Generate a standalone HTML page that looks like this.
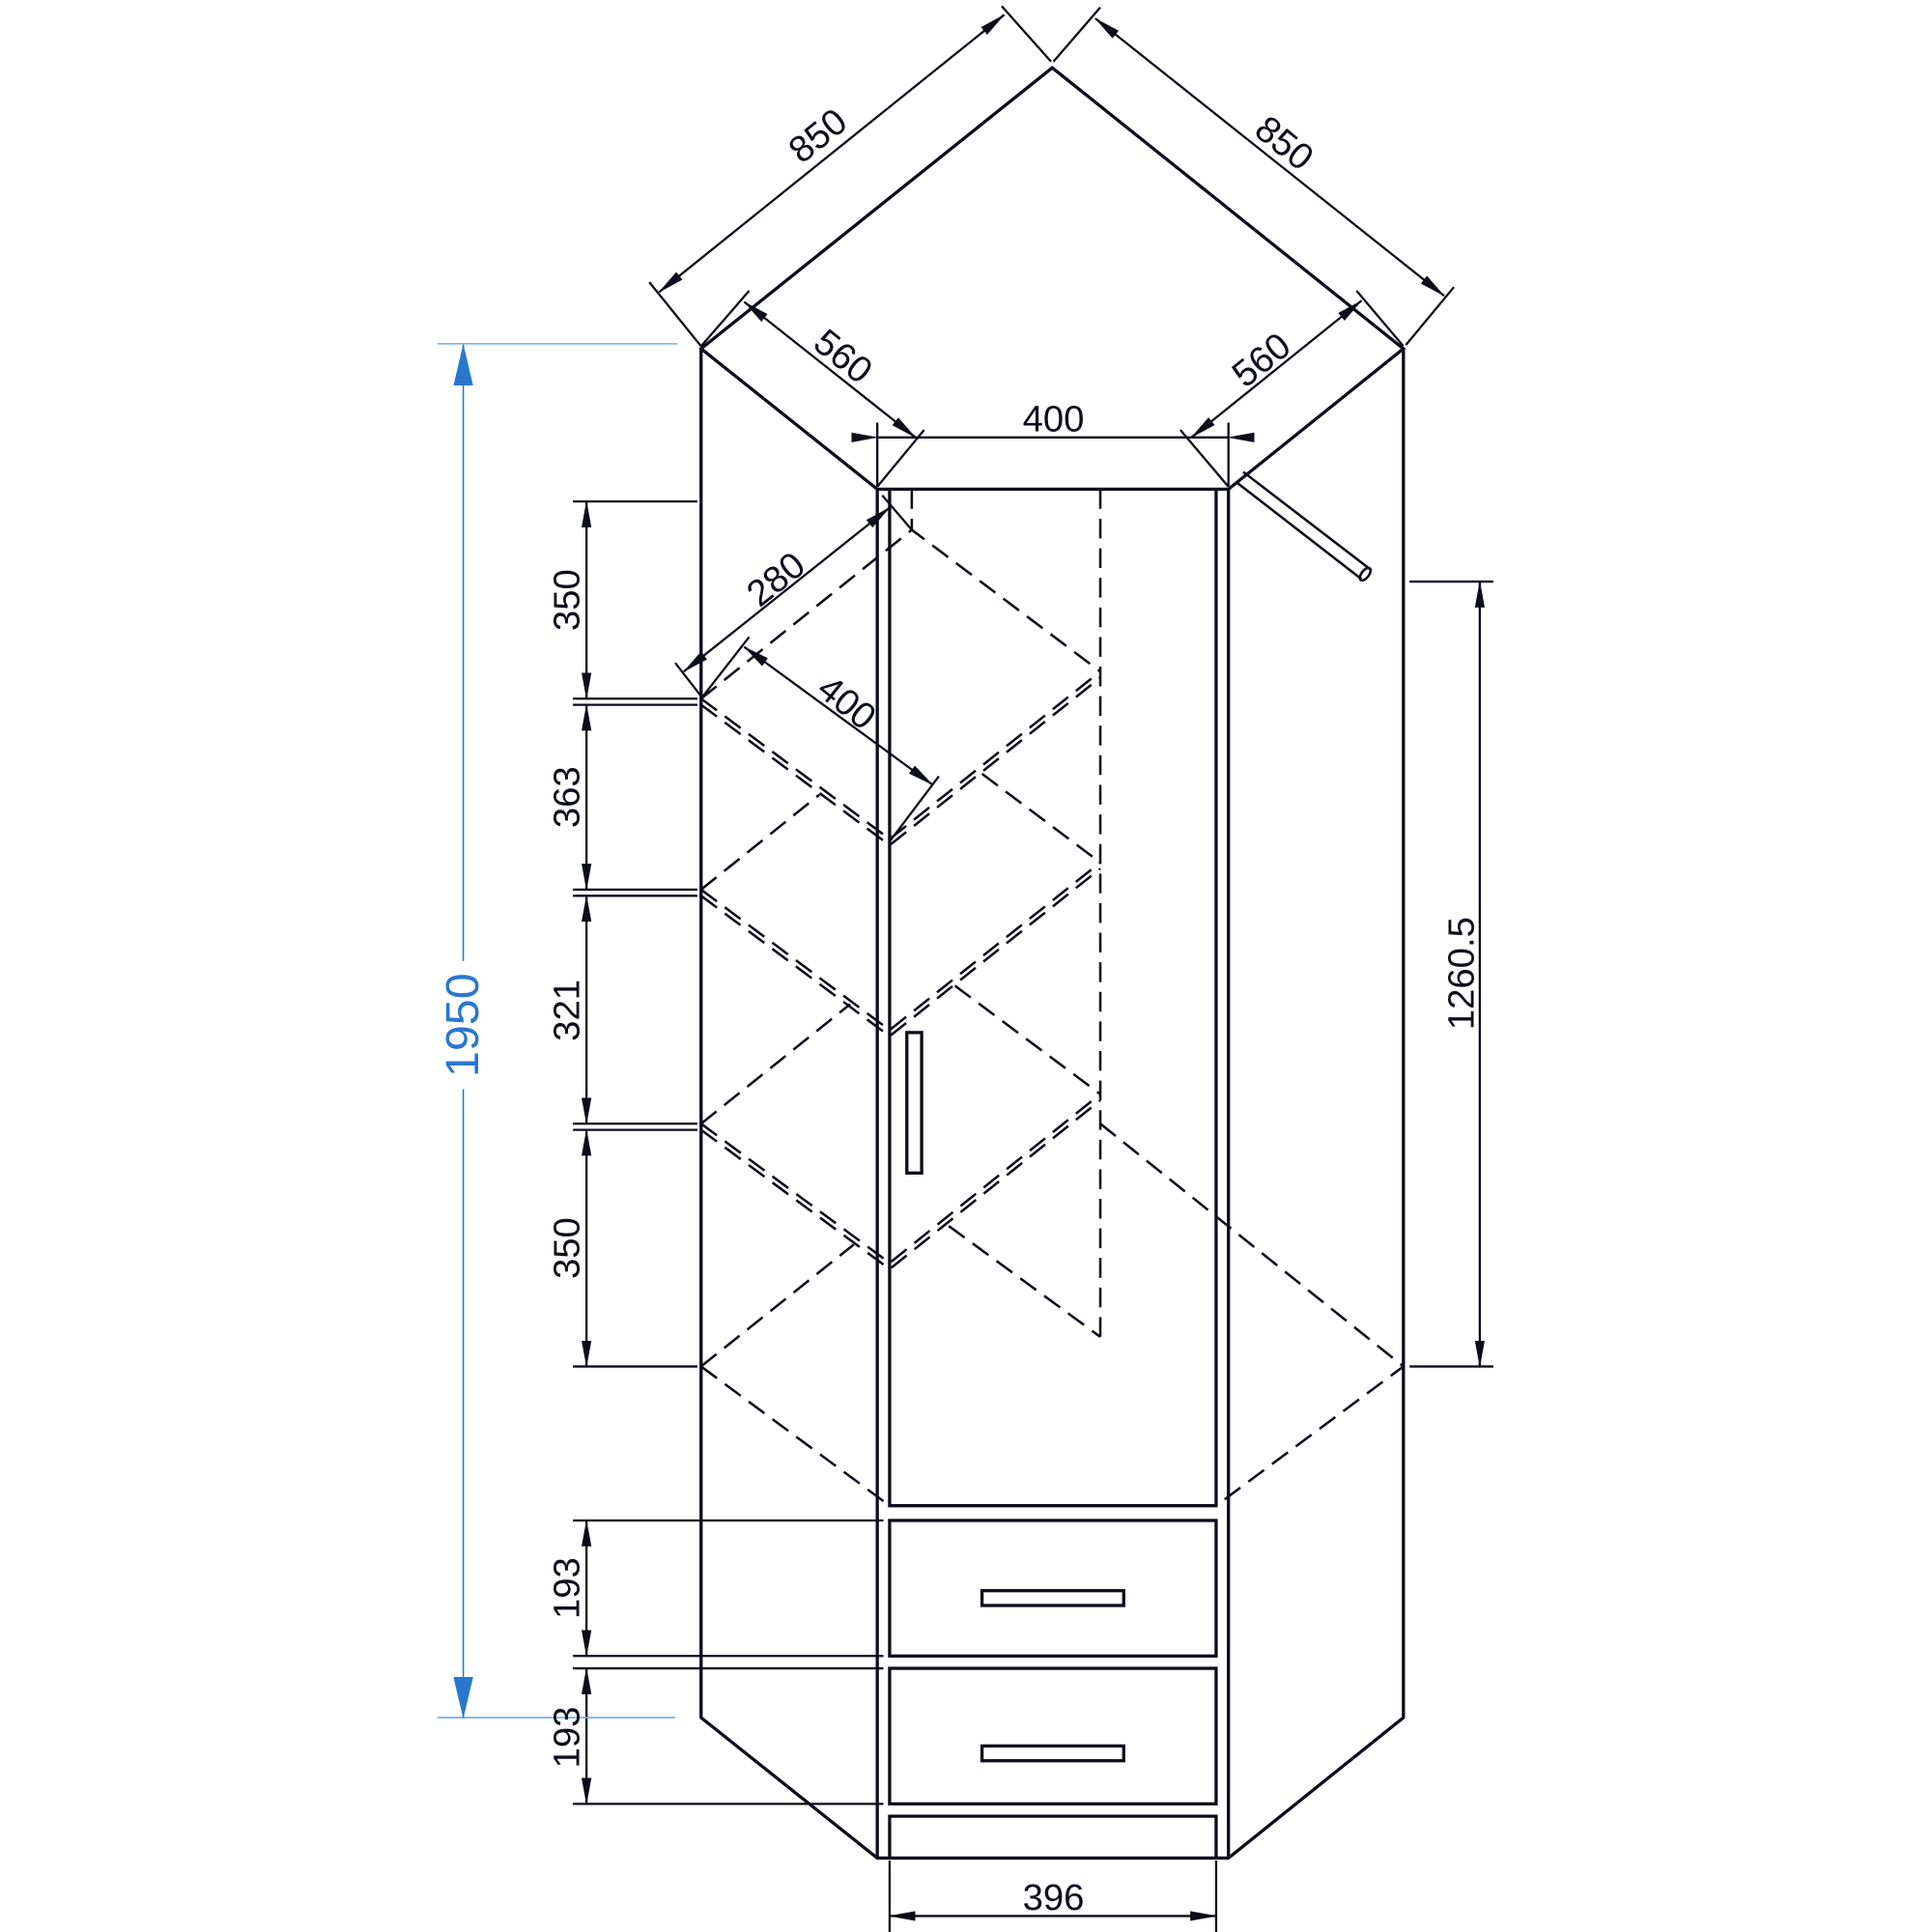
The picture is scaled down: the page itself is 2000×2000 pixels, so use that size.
<!DOCTYPE html>
<html><head><meta charset="utf-8"><style>html,body{margin:0;padding:0;background:#fff}svg{display:block}</style></head>
<body>
<svg width="2000" height="2000" viewBox="0 0 1568 1568" xmlns="http://www.w3.org/2000/svg">
<defs>
<marker id="a" markerWidth="22" markerHeight="10" refX="21" refY="5" orient="auto" markerUnits="userSpaceOnUse"><path d="M0,1 L22,5 L0,9 Z" fill="#0d0d1a"/></marker>
<marker id="b" markerWidth="22" markerHeight="10" refX="1" refY="5" orient="auto" markerUnits="userSpaceOnUse"><path d="M22,1 L0,5 L22,9 Z" fill="#0d0d1a"/></marker>
<marker id="c" markerWidth="34" markerHeight="16" refX="33" refY="8" orient="auto" markerUnits="userSpaceOnUse"><path d="M0,0 L34,8 L0,16 Z" fill="#2a78cc"/></marker>
<marker id="d" markerWidth="34" markerHeight="16" refX="1" refY="8" orient="auto" markerUnits="userSpaceOnUse"><path d="M34,0 L0,8 L34,16 Z" fill="#2a78cc"/></marker>
</defs>
<g fill="none" stroke="#0d0d1a" stroke-width="2.6" stroke-linejoin="miter">
<!-- body -->
<path d="M569,283 L854,55 L1139,283 L997,397 L712,397 Z"/>
<path d="M569,283 V1394 L712,1508 H997 L1139,1394 V283"/>
<path d="M712,397 V1508 M997,397 V1508"/>
<path d="M722,397 V1222 H987 V397"/>
<rect x="722" y="1234" width="265" height="110"/>
<rect x="722" y="1354" width="265" height="110"/>
<path d="M722,1508 V1474 H987 V1508"/>
<rect x="797" y="1291" width="115" height="12"/>
<rect x="797" y="1417" width="115" height="12"/>
<rect x="736" y="838" width="12" height="114"/>
<!-- rail -->
<path d="M1009,383 L1112,462 M1003,391 L1105,470" stroke-width="2"/>
<ellipse cx="1108" cy="466" rx="3" ry="6" transform="rotate(38 1108 466)" stroke-width="2"/>
</g>
<!-- dashed hidden lines -->
<g fill="none" stroke="#0d0d1a" stroke-width="2" stroke-dasharray="16,8">
<path d="M740,397 V430 M893,397 V1085"/>
<path d="M569,567 L740,430 L893,545"/>
<path d="M569,567 L722,681 L893,545 M569,572 L722,686 L893,550"/>
<path d="M569,722 L665,645 M797,628 L893,700"/>
<path d="M569,722 L722,836 L893,700 M569,727 L722,841 L893,705"/>
<path d="M569,912 L690,815 M775,800 L893,888"/>
<path d="M569,912 L722,1025 L893,888 M569,917 L722,1030 L893,893"/>
<path d="M569,1109 L693,1010 M770,995 L893,1085"/>
<path d="M893,912 L1139,1109 L987,1222 M569,1109 L722,1222"/>
</g>
<!-- dimension lines -->
<g fill="none" stroke="#0d0d1a" stroke-width="1.8">
<path d="M527,229 L569,281 M813,5 L853,50 M855,50 L893,6 M1141,280 L1180,233"/>
<path d="M535,237 L815,12" marker-start="url(#b)" marker-end="url(#a)"/>
<path d="M889,15 L1172,240" marker-start="url(#b)" marker-end="url(#a)"/>
<path d="M569,281 L608,236 M712,395 L750,349 M1101,236 L1139,281 M958,349 L997,395"/>
<path d="M604,245 L743,355" marker-start="url(#b)" marker-end="url(#a)"/>
<path d="M967,355 L1105,244" marker-start="url(#b)" marker-end="url(#a)"/>
<path d="M712,343 V395 M997,343 V395"/>
<path d="M712,355 H997" marker-start="url(#a)" marker-end="url(#b)"/>
<path d="M548,538 L569,565 M716,402 L740,430"/>
<path d="M555,545 L722,412" marker-start="url(#b)" marker-end="url(#a)"/>
<path d="M569,567 L608,517 M722,683 L762,630"/>
<path d="M604,525 L757,637" marker-start="url(#b)" marker-end="url(#a)"/>
<!-- left stack -->
<path d="M465,407 H566 M465,567 H566 M465,572 H566 M465,722 H566 M465,727 H566 M465,912 H566 M465,917 H566 M465,1109 H566"/>
<path d="M476,407 V567" marker-start="url(#b)" marker-end="url(#a)"/>
<path d="M476,572 V722" marker-start="url(#b)" marker-end="url(#a)"/>
<path d="M476,727 V912" marker-start="url(#b)" marker-end="url(#a)"/>
<path d="M476,917 V1109" marker-start="url(#b)" marker-end="url(#a)"/>
<path d="M465,1234 H717 M465,1344 H717 M465,1354 H717 M465,1464 H717"/>
<path d="M476,1234 V1344" marker-start="url(#b)" marker-end="url(#a)"/>
<path d="M476,1354 V1464" marker-start="url(#b)" marker-end="url(#a)"/>
<!-- right 1260.5 -->
<path d="M1144,472 H1212 M1144,1109 H1212"/>
<path d="M1201,472 V1109" marker-start="url(#b)" marker-end="url(#a)"/>
<!-- bottom 396 -->
<path d="M722,1510 V1568 M987,1510 V1568"/>
<path d="M722,1555 H987" marker-start="url(#b)" marker-end="url(#a)"/>
</g>
<!-- blue 1950 -->
<g fill="none" stroke="#6aaee8" stroke-width="1.2">
<path d="M355,279 H550 M355,1394 H548"/>
</g>
<path d="M376,280 V780 M376,884 V1394" stroke="#2a78cc" stroke-width="1.2" fill="none"/>
<path d="M376,280 V300" stroke="#2a78cc" marker-start="url(#d)"/>
<path d="M376,1374 V1394" stroke="#2a78cc" marker-end="url(#c)"/>
<g font-family="'Liberation Sans Narrow','Liberation Sans',sans-serif" font-size="30" fill="#0d0d1a" text-anchor="middle">
<text transform="translate(670,118) rotate(-38.8)">850</text>
<text transform="translate(1036,124) rotate(38.8)">850</text>
<text transform="translate(678,297) rotate(38.8)">560</text>
<text transform="translate(1030,300) rotate(-38.8)">560</text>
<text x="855" y="350">400</text>
<text transform="translate(636,478) rotate(-38.8)">280</text>
<text transform="translate(681,578) rotate(38.8)">400</text>
<text transform="translate(470,487) rotate(-90)">350</text>
<text transform="translate(470,647) rotate(-90)">363</text>
<text transform="translate(470,820) rotate(-90)">321</text>
<text transform="translate(470,1013) rotate(-90)">350</text>
<text transform="translate(470,1289) rotate(-90)">193</text>
<text transform="translate(470,1410) rotate(-90)">193</text>
<text transform="translate(1196,790) rotate(-90)">1260.5</text>
<text x="855" y="1550">396</text>
<text transform="translate(388,832) rotate(-90)" font-size="38" fill="#2a78cc">1950</text>
</g>
</svg>
</body></html>
